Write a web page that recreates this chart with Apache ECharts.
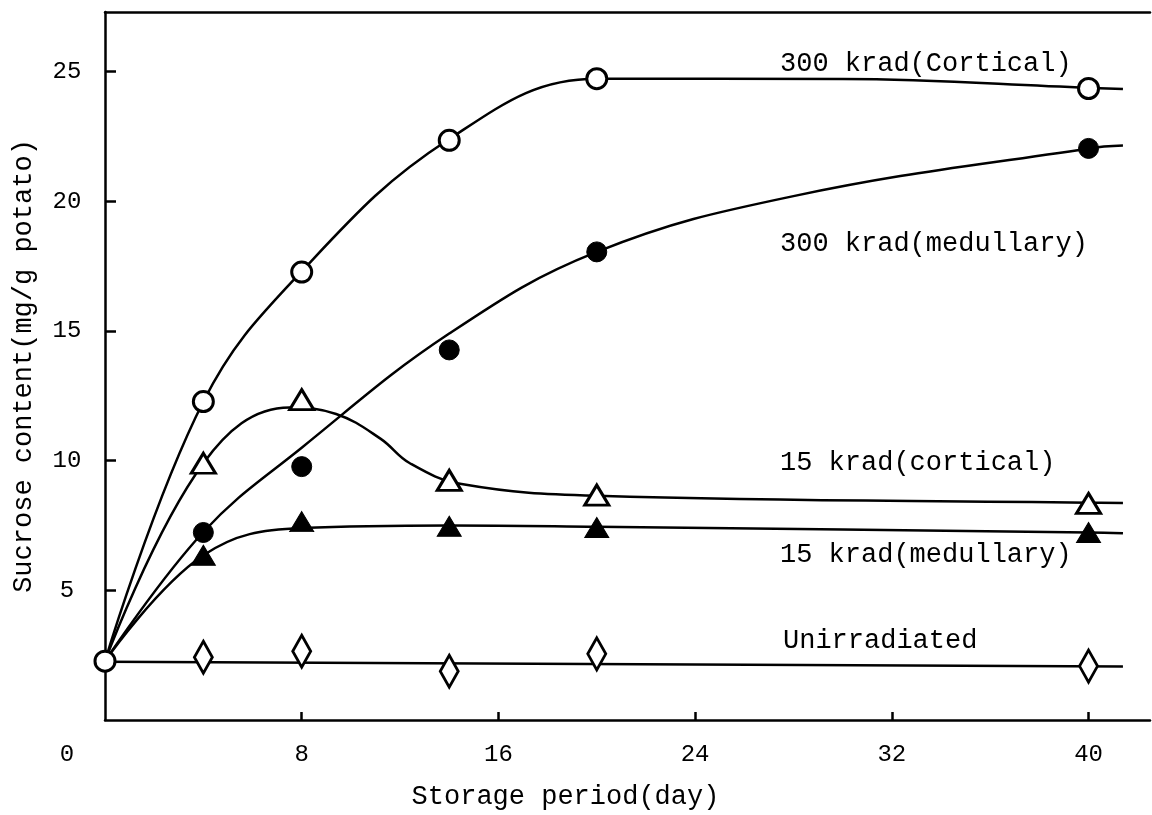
<!DOCTYPE html>
<html>
<head>
<meta charset="utf-8">
<script src="https://cdn.jsdelivr.net/npm/echarts@6/dist/echarts.min.js"></script>
<style>
html,body{margin:0;padding:0;background:#fff;}
#chart{width:1152px;height:815px;}
</style>
</head>
<body>
<div id="chart"></div>
<script>
// ---- data ----
const xTickValues = [8, 16, 24, 32, 40];
const xLabelValues = [0, 8, 16, 24, 32, 40];
const yTickValues = [5, 10, 15, 20, 25];

const pointDays = [4, 8, 14, 20, 40];
const originPoint = [0, 2.27];
const cortical300 = [12.28, 17.27, 22.35, 24.73, 24.35];
const medullary300 = [7.23, 9.77, 14.27, 18.05, 22.04];
const cortical15 = [9.9, 12.35, 9.24, 8.67, 8.35];
const medullary15 = [6.35, 7.65, 7.47, 7.42, 7.23];
const unirradiated = [2.42, 2.65, 1.88, 2.55, 2.08];

// fitted curves (as drawn in the figure)
const fitCortical300 = [[0,2.27],[4,12.28],[8,17.3],[14,22.4],[20,24.73],[30,24.72],[40,24.38],[41.4,24.33]];
const fitMedullary300 = [[0,2.27],[4,7.25],[8,10.5],[14,14.9],[20,18.05],[28,20.2],[40,22.04],[41.4,22.15]];
const fitCortical15 = [[0,2.27],[4,9.9],[7.5,12.05],[9.4,11.8],[11.2,10.85],[12.4,9.9],[14.5,9.1],[20,8.65],[40,8.38],[41.4,8.37]];
const fitMedullary15 = [[0,2.27],[4,6.35],[8,7.4],[14,7.5],[20,7.45],[40,7.23],[41.4,7.2]];
const fitUnirradiated = [[0,2.25],[41.4,2.06]];

const labels = ['300 krad(Cortical)', '300 krad(medullary)', '15 krad(cortical)', '15 krad(medullary)', 'Unirradiated'];

// ---- chart ----
const MONO = '"Liberation Mono", "DejaVu Sans Mono", monospace';
const pairs = (vals) => pointDays.map((d, i) => [d, vals[i]]);

const lineStyle = { color: '#000', width: 2.5 };
function fitSeries(name, data) {
  return {
    name: name, type: 'line', data: data, smooth: 0.4,
    symbol: 'none', lineStyle: lineStyle, z: 2, silent: true
  };
}
const openStyle = { color: '#fff', borderColor: '#000', borderWidth: 3, opacity: 1 };
const filledStyle = { color: '#000', borderColor: '#000', borderWidth: 1, opacity: 1 };
function pointSeries(name, data, symbol, size, style) {
  return {
    name: name, type: 'scatter', data: data, symbol: symbol, symbolSize: size,
    itemStyle: style, z: 5
  };
}

const chart = echarts.init(document.getElementById('chart'), null, { renderer: 'canvas' });
chart.setOption({
  backgroundColor: '#fff',
  animation: false,
  grid: { left: 105, right: 2, top: 12, bottom: 93, containLabel: false },
  xAxis: [{
    type: 'value', min: 0, max: 42.5, position: 'bottom',
    name: 'Storage period(day)', nameLocation: 'middle', nameGap: 63,
    nameTextStyle: { fontFamily: MONO, fontSize: 27, color: '#000', padding: [0, 124, 0, 0] },
    axisLine: { show: true, onZero: false, lineStyle: { color: '#000', width: 2.5 } },
    axisTick: { show: true, inside: true, length: 8, customValues: xTickValues, lineStyle: { color: '#000', width: 2.5 } },
    axisLabel: {
      show: true, customValues: xLabelValues, margin: 23,
      fontFamily: MONO, fontSize: 24, color: '#000',
      formatter: (v) => v === 0 ? '{o|0}' : String(v),
      rich: { o: { fontFamily: MONO, fontSize: 24, color: '#000', padding: [0, 76, 0, 0] } }
    },
    splitLine: { show: false }
  }, {
    type: 'value', min: 0, max: 42.5, position: 'top',
    axisLine: { show: true, onZero: false, lineStyle: { color: '#000', width: 2.5 } },
    axisTick: { show: false }, axisLabel: { show: false }, splitLine: { show: false }
  }],
  yAxis: {
    type: 'value', min: 0, max: 27.3,
    name: 'Sucrose content(mg/g potato)', nameLocation: 'middle', nameGap: 68, nameRotate: 90,
    nameTextStyle: { fontFamily: MONO, fontSize: 27, color: '#000' },
    axisLine: { show: true, onZero: false, lineStyle: { color: '#000', width: 2.5 } },
    axisTick: { show: true, inside: true, length: 11, customValues: yTickValues, lineStyle: { color: '#000', width: 2.5 } },
    axisLabel: {
      show: true, customValues: yTickValues, margin: 38, align: 'center',
      fontFamily: MONO, fontSize: 24, color: '#000'
    },
    splitLine: { show: false }
  },
  series: [
    fitSeries(labels[0] + ' fit', fitCortical300),
    fitSeries(labels[1] + ' fit', fitMedullary300),
    fitSeries(labels[2] + ' fit', fitCortical15),
    fitSeries(labels[3] + ' fit', fitMedullary15),
    fitSeries(labels[4] + ' fit', fitUnirradiated),
    pointSeries(labels[4], pairs(unirradiated), 'diamond', [18, 32], openStyle),
    pointSeries(labels[3], pairs(medullary15), 'triangle', [24, 20], filledStyle),
    pointSeries(labels[2], pairs(cortical15), 'triangle', [24, 20], openStyle),
    pointSeries(labels[1], pairs(medullary300), 'circle', 20, filledStyle),
    pointSeries(labels[0], [originPoint].concat(pairs(cortical300)), 'circle', 20, openStyle)
  ],
  graphic: [
    { type: 'text', left: 780, top: 50, style: { text: labels[0], font: '27px ' + MONO, fill: '#000' } },
    { type: 'text', left: 780, top: 230, style: { text: labels[1], font: '27px ' + MONO, fill: '#000' } },
    { type: 'text', left: 780, top: 449, style: { text: labels[2], font: '27px ' + MONO, fill: '#000' } },
    { type: 'text', left: 780, top: 541, style: { text: labels[3], font: '27px ' + MONO, fill: '#000' } },
    { type: 'text', left: 783, top: 627, style: { text: labels[4], font: '27px ' + MONO, fill: '#000' } }
  ]
});
</script>
</body>
</html>
